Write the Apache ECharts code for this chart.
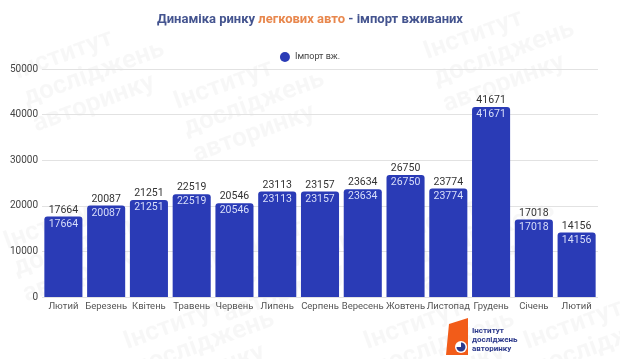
<!DOCTYPE html>
<html><head><meta charset="utf-8">
<script src="https://cdn.jsdelivr.net/npm/echarts@6/dist/echarts.min.js"></script>
<style>html,body{margin:0;padding:0;background:#fff}#c{width:620px;height:359px}</style>
</head><body><div id="c"></div>
<script>
const categories = ['Лютий','Березень','Квітень','Травень','Червень','Липень','Серпень','Вересень','Жовтень','Листопад','Грудень','Січень','Лютий'];
const importUsed = [17664,20087,21251,22519,20546,23113,23157,23634,26750,23774,41671,17018,14156];
const yTicks = [0,10000,20000,30000,40000,50000];

const chart = echarts.init(document.getElementById('c'));
const wm = [];
const wmPos = [[10,60],[170,90],[420,40],[0,230],[200,250],[400,220],[120,330],[360,330],[520,330]];
wmPos.forEach(p => wm.push({type:'text', x:p[0], y:p[1], rotation:0.35, silent:true, z:-10,
  style:{text:'Інститут\nдосліджень\nавторинку', fill:'rgba(0,0,0,0.03)', font:'bold 26px Roboto', lineHeight:28}}));
chart.setOption({
  animation:false,
  title:{
    text:'{a|Динаміка ринку }{b|легкових авто}{a| - імпорт вживаних}',
    left:'center', top:8,
    textStyle:{rich:{a:{color:'#44548f',fontSize:13,fontWeight:'bold',fontFamily:'Roboto'},b:{color:'#e8874d',fontSize:13,fontWeight:'bold',fontFamily:'Roboto'}}}
  },
  legend:{top:47,left:'center',icon:'circle',itemWidth:10,itemHeight:10,
    textStyle:{fontSize:9,color:'#444',fontFamily:'Roboto'},data:['Імпорт вж.']},
  grid:{left:42,right:22,top:69,bottom:62},
  xAxis:{type:'category',data:categories,
    axisLine:{show:false},axisTick:{show:false},
    axisLabel:{color:'#555',fontSize:9.5,fontFamily:'Roboto',margin:5,interval:0}},
  yAxis:{type:'value',min:0,max:50000,interval:10000,
    axisLabel:{color:'#444',fontSize:10,fontFamily:'Roboto',margin:4,
      formatter:v => yTicks.includes(v) ? String(v) : ''},
    splitLine:{lineStyle:{color:'#e2e2e2'}}},
  series:[{
    name:'Імпорт вж.',type:'bar',data:importUsed,barCategoryGap:'11%',
    itemStyle:{color:'#2a3bb6',borderRadius:[3,3,0,0]},
    label:{show:true,position:'top',distance:1,color:'#333',fontSize:10.5,fontFamily:'Roboto'}
  },{
    name:'Імпорт вж.',type:'bar',data:importUsed,barGap:'-100%',barCategoryGap:'11%',
    itemStyle:{color:'rgba(0,0,0,0)'},
    label:{show:true,position:'insideTop',distance:2,color:'#d8defa',fontSize:10.5,fontFamily:'Roboto'},
    tooltip:{show:false}
  }],
  graphic:wm.concat([
    {type:'polygon',shape:{points:[[449,324],[468,318],[468,355],[446,355]]},style:{fill:'#f25c19'}},
    {type:'circle',shape:{cx:461,cy:347,r:6},style:{fill:'#fff'}},
    {type:'sector',shape:{cx:461,cy:347,r:4.5,startAngle:-Math.PI/2,endAngle:Math.PI},style:{fill:'#2d3a8c'}},
    {type:'text',x:472,y:326,style:{text:'Інститут\nдосліджень\nавторинку',fill:'#2d3a8c',font:'bold 8px Roboto',lineHeight:9}}
  ])
});
</script></body></html>
